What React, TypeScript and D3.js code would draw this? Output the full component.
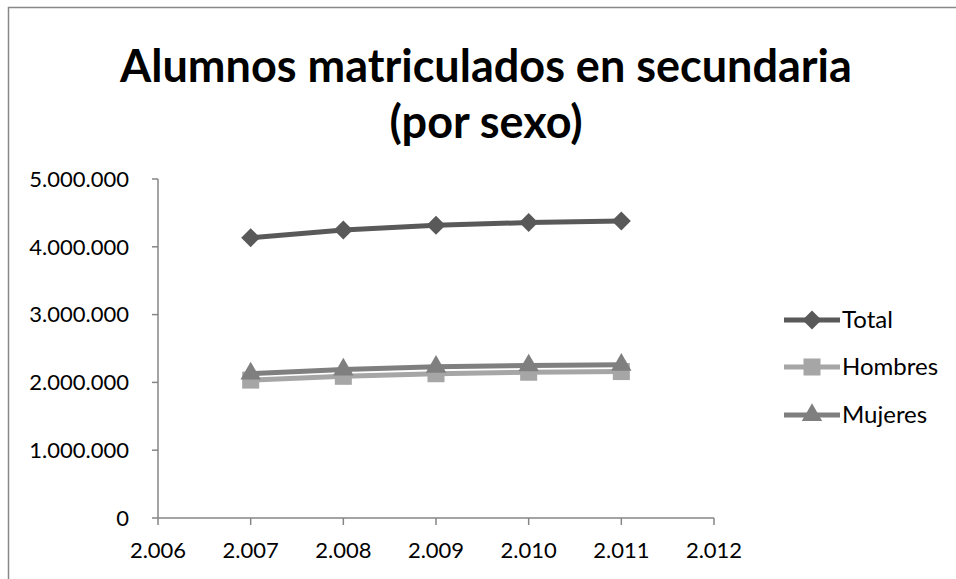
import React, { useEffect, useRef } from "react";
import * as d3 from "d3";

const years = [2007, 2008, 2009, 2010, 2011];
const totalValues = [4134000, 4248000, 4318000, 4358000, 4382000];
const hombresValues = [2034000, 2090000, 2128000, 2150000, 2160000];
const mujeresValues = [2130000, 2190000, 2230000, 2250000, 2260000];
const seriesNames = ["Total", "Hombres", "Mujeres"];
const xTicks = [2006, 2007, 2008, 2009, 2010, 2011, 2012];
const yTicks = [0, 1000000, 2000000, 3000000, 4000000, 5000000];

const fmt = (v: number) =>
  v === 0 ? "0" : v.toLocaleString("en-US").replace(/,/g, ".");

export default function App() {
  const ref = useRef<SVGSVGElement>(null);

  useEffect(() => {
    const svg = d3.select(ref.current);
    svg.selectAll("*").remove();

    const font = "Lato, 'Open Sans', sans-serif";
    const axisColor = "#868686";

    // chart frame (runs off the right/bottom of the picture)
    svg
      .append("rect")
      .attr("x", 8.5)
      .attr("y", 7.5)
      .attr("width", 960)
      .attr("height", 600)
      .attr("fill", "white")
      .attr("stroke", "#888")
      .attr("stroke-width", 1.5);

    // title
    const title = svg
      .append("text")
      .attr("text-anchor", "middle")
      .attr("font-family", font)
      .attr("font-weight", "bold")
      .attr("font-size", 45)
      .attr("fill", "#000");
    title.append("tspan").attr("x", 486).attr("y", 82).text("Alumnos matriculados en secundaria");
    title.append("tspan").attr("x", 486).attr("y", 138).text("(por sexo)");

    const x = d3.scaleLinear().domain([2006, 2012]).range([158, 714]);
    const y = d3.scaleLinear().domain([0, 5000000]).range([518, 179]);

    // y axis
    const gy = svg.append("g");
    gy.append("line")
      .attr("x1", x(2006))
      .attr("x2", x(2006))
      .attr("y1", y(0))
      .attr("y2", y(5000000))
      .attr("stroke", axisColor)
      .attr("stroke-width", 1.5);
    gy.selectAll(".tk")
      .data(yTicks)
      .join("line")
      .attr("x1", x(2006) - 6)
      .attr("x2", x(2006))
      .attr("y1", (d) => y(d))
      .attr("y2", (d) => y(d))
      .attr("stroke", axisColor)
      .attr("stroke-width", 1.5);
    gy.selectAll("text")
      .data(yTicks)
      .join("text")
      .attr("x", x(2006) - 29)
      .attr("y", (d) => y(d))
      .attr("dy", "0.35em")
      .attr("text-anchor", "end")
      .attr("font-family", font)
      .attr("font-size", 22)
      .attr("fill", "#000")
      .text((d) => fmt(d));

    // x axis
    const gx = svg.append("g");
    gx.append("line")
      .attr("x1", x(2006))
      .attr("x2", x(2012))
      .attr("y1", y(0))
      .attr("y2", y(0))
      .attr("stroke", axisColor)
      .attr("stroke-width", 1.5);
    gx.selectAll(".tk")
      .data(xTicks)
      .join("line")
      .attr("x1", (d) => x(d))
      .attr("x2", (d) => x(d))
      .attr("y1", y(0))
      .attr("y2", y(0) + 7)
      .attr("stroke", axisColor)
      .attr("stroke-width", 1.5);
    gx.selectAll("text")
      .data(xTicks)
      .join("text")
      .attr("x", (d) => x(d))
      .attr("y", 558)
      .attr("text-anchor", "middle")
      .attr("font-family", font)
      .attr("font-size", 22)
      .attr("fill", "#000")
      .text((d) => fmt(d));

    const series = [
      { name: seriesNames[0], values: totalValues, color: "#595959", shape: "diamond" },
      { name: seriesNames[1], values: hombresValues, color: "#A6A6A6", shape: "square" },
      { name: seriesNames[2], values: mujeresValues, color: "#7F7F7F", shape: "triangle" },
    ];

    const markerPath = (shape: string) => {
      if (shape === "diamond") return d3.symbol(d3.symbolSquare, 180)();
      if (shape === "square") return d3.symbol(d3.symbolSquare, 290)();
      return d3.symbol(d3.symbolTriangle, 180)();
    };
    const markerRot = (shape: string) => (shape === "diamond" ? " rotate(45)" : "");

    const line = d3
      .line<number>()
      .x((_, i) => x(years[i]))
      .y((d) => y(d));

    series.forEach((s) => {
      const g = svg.append("g");
      g.append("path")
        .datum(s.values)
        .attr("d", line)
        .attr("fill", "none")
        .attr("stroke", s.color)
        .attr("stroke-width", 5)
        .attr("stroke-linejoin", "round");
      g.selectAll("path.m")
        .data(s.values)
        .join("path")
        .attr("class", "m")
        .attr("d", markerPath(s.shape))
        .attr("transform", (d, i) => `translate(${x(years[i])},${y(d)})${markerRot(s.shape)}`)
        .attr("fill", s.color);
    });

    // legend
    const legendY = [320, 367, 415];
    series.forEach((s, i) => {
      const g = svg.append("g").attr("transform", `translate(0,${legendY[i]})`);
      g.append("line")
        .attr("x1", 784)
        .attr("x2", 840)
        .attr("y1", 0)
        .attr("y2", 0)
        .attr("stroke", s.color)
        .attr("stroke-width", 5);
      g.append("path")
        .attr("d", markerPath(s.shape))
        .attr("transform", `translate(812,0)${markerRot(s.shape)}`)
        .attr("fill", s.color);
      g.append("text")
        .attr("x", 842)
        .attr("y", 0)
        .attr("dy", "0.35em")
        .attr("font-family", font)
        .attr("font-size", 24)
        .attr("fill", "#000")
        .text(s.name);
    });
  }, []);

  return (
    <svg
      ref={ref}
      width={956}
      height={579}
      style={{ position: "absolute", left: 0, top: 0 }}
    />
  );
}
